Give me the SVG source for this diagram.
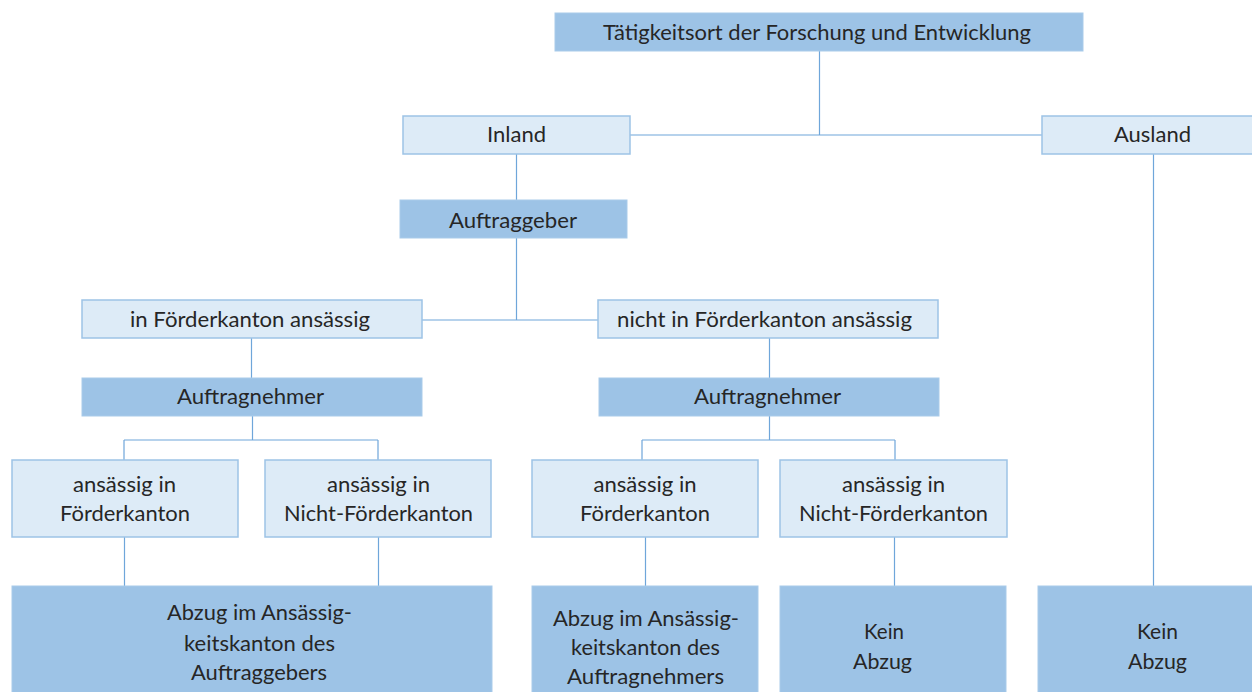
<svg xmlns="http://www.w3.org/2000/svg" width="1252" height="692" viewBox="0 0 1252 692">
<style>
.dark{fill:#9DC3E6;stroke:#A9CBEA;stroke-width:1}
.light{fill:#DDEBF7;stroke:#9DC3E6;stroke-width:1.5}
.t{font-family:Lato,"Open Sans","Liberation Sans",sans-serif;font-size:21px;fill:#262626;text-anchor:middle}
.k{font-size:22px}
.c{stroke:#6FA6DA;stroke-width:1.2;fill:none}
</style>
<rect width="1252" height="692" fill="#fff"/>
<g id="connectors">
<path class="c" d="M819.5 51V135M630 135H1042"/>
<path class="c" d="M516.5 154V200M516.5 238V320M422 320H598"/>
<path class="c" d="M251.5 338V378M252.5 416V440M124 440H378M124 440V460M378 440V460"/>
<path class="c" d="M769.5 338V378M769.5 416V440M642 440H895M642 440V460M895 440V460"/>
<path class="c" d="M124.5 537V586M378.5 537V586M645.5 537V586M894.5 537V586M1153.5 154V586"/>
</g>
<g id="n-root"><rect class="dark" x="555" y="13" width="528" height="38"/><text class="t k" x="817" y="40" textLength="428" lengthAdjust="spacingAndGlyphs">Tätigkeitsort der Forschung und Entwicklung</text></g>
<g id="n-inland"><rect class="light" x="403" y="116" width="227" height="38"/><text class="t" x="516.5" y="142" textLength="59" lengthAdjust="spacingAndGlyphs">Inland</text></g>
<g id="n-ausland"><rect class="light" x="1042" y="116" width="212" height="38"/><text class="t" x="1152.5" y="142" textLength="77" lengthAdjust="spacingAndGlyphs">Ausland</text></g>
<g id="n-auftraggeber"><rect class="dark" x="400" y="200" width="227" height="38"/><text class="t" x="513" y="228" textLength="128" lengthAdjust="spacingAndGlyphs">Auftraggeber</text></g>
<g id="n-in"><rect class="light" x="82" y="300" width="340" height="38"/><text class="t" x="250" y="327" textLength="240" lengthAdjust="spacingAndGlyphs">in Förderkanton ansässig</text></g>
<g id="n-nicht"><rect class="light" x="598" y="300" width="340" height="38"/><text class="t" x="764.5" y="327" textLength="295" lengthAdjust="spacingAndGlyphs">nicht in Förderkanton ansässig</text></g>
<g id="n-an1"><rect class="dark" x="82" y="378" width="340" height="38"/><text class="t" x="250.5" y="404" textLength="147" lengthAdjust="spacingAndGlyphs">Auftragnehmer</text></g>
<g id="n-an2"><rect class="dark" x="599" y="378" width="340" height="38"/><text class="t" x="767.5" y="404" textLength="147" lengthAdjust="spacingAndGlyphs">Auftragnehmer</text></g>
<g id="n-l1"><rect class="light" x="12" y="460" width="226" height="77"/><text class="t" x="124.5" y="492" textLength="103" lengthAdjust="spacingAndGlyphs">ansässig in</text><text class="t" x="125" y="521" textLength="130" lengthAdjust="spacingAndGlyphs">Förderkanton</text></g>
<g id="n-l2"><rect class="light" x="265" y="460" width="226" height="77"/><text class="t" x="378.5" y="492" textLength="103" lengthAdjust="spacingAndGlyphs">ansässig in</text><text class="t" x="378.5" y="521" textLength="189" lengthAdjust="spacingAndGlyphs">Nicht-Förderkanton</text></g>
<g id="n-r1"><rect class="light" x="532" y="460" width="226" height="77"/><text class="t" x="645" y="492" textLength="103" lengthAdjust="spacingAndGlyphs">ansässig in</text><text class="t" x="645" y="521" textLength="130" lengthAdjust="spacingAndGlyphs">Förderkanton</text></g>
<g id="n-r2"><rect class="light" x="780" y="460" width="227" height="77"/><text class="t" x="893.5" y="492" textLength="103" lengthAdjust="spacingAndGlyphs">ansässig in</text><text class="t" x="893.5" y="521" textLength="189" lengthAdjust="spacingAndGlyphs">Nicht-Förderkanton</text></g>
<g id="n-b1"><rect class="dark" x="12" y="586" width="480" height="108"/><text class="t k" x="259.5" y="620" textLength="185" lengthAdjust="spacingAndGlyphs">Abzug im Ansässig-</text><text class="t k" x="259.5" y="651" textLength="151" lengthAdjust="spacingAndGlyphs">keitskanton des</text><text class="t k" x="259" y="680" textLength="136" lengthAdjust="spacingAndGlyphs">Auftraggebers</text></g>
<g id="n-b2"><rect class="dark" x="532" y="586" width="226" height="108"/><text class="t k" x="646" y="626" textLength="186" lengthAdjust="spacingAndGlyphs">Abzug im Ansässig-</text><text class="t k" x="645.5" y="655" textLength="149" lengthAdjust="spacingAndGlyphs">keitskanton des</text><text class="t k" x="645.5" y="684" textLength="157" lengthAdjust="spacingAndGlyphs">Auftragnehmers</text></g>
<g id="n-b3"><rect class="dark" x="780" y="586" width="226" height="108"/><text class="t k" x="884" y="639" textLength="40" lengthAdjust="spacingAndGlyphs">Kein</text><text class="t k" x="882.5" y="669" textLength="59" lengthAdjust="spacingAndGlyphs">Abzug</text></g>
<g id="n-b4"><rect class="dark" x="1038" y="586" width="216" height="108"/><text class="t k" x="1157.5" y="639" textLength="41" lengthAdjust="spacingAndGlyphs">Kein</text><text class="t k" x="1157.5" y="669" textLength="59" lengthAdjust="spacingAndGlyphs">Abzug</text></g>
</svg>
